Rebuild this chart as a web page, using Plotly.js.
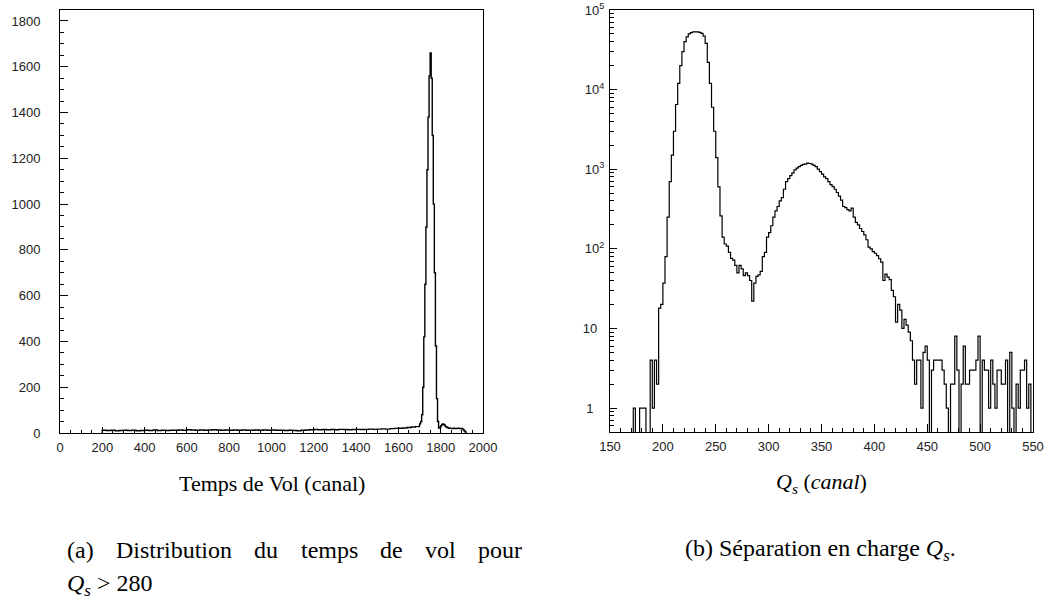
<!DOCTYPE html>
<html><head><meta charset="utf-8">
<script src="https://cdn.plot.ly/plotly-3.0.1.min.js"></script>
<style>html,body{margin:0;padding:0;background:#fff}#chart{width:1049px;height:602px}</style>
</head><body><div id="chart"></div>
<script>
// ---- Left: time-of-flight distribution (Qs > 280) ----
const tofBaseStart = 200, tofBaseWidth = 20;
const tofBaseCounts = [
  12,11,12,10,11,12,11,12,10,11,
  12,11,13,11,12,11,12,12,13,12,
  14,13,12,13,12,13,14,13,12,13,
  12,13,12,13,12,12,13,12,13,12,
  13,12,12,11,12,11,10,12,13,14,
  15,14,15,14,15,14,16,15,14,15,
  16,15,16,17,16,17,18,17,19,20,
  21,22,24,26,28
];
const tofPeakStart = 1700, tofPeakWidth = 5;
const tofPeakCounts = [
  40,50,80,200,420,650,900,1150,1380,1560,
  1660,1550,1300,1000,700,380,150,50,22,25,
  32,37,40,36,30,26,24,22,21,20,
  20,19,21,20,19,20,21,20,19,20,
  18,15,10,5
];
const tofXTicks = [0,200,400,600,800,1000,1200,1400,1600,1800,2000];
const tofYTicks = [0,200,400,600,800,1000,1200,1400,1600,1800];

// ---- Right: charge separation Qs (log scale) ----
const qsStart = 150, qsWidth = 2;
const qsCounts = [
  0,0,0,0,0,0,0,0,0,0,0,            // 150-170
  1,0,0,1,1,1,0,0,4,1,4,2,          // 172-194
  18,20,37,80,250,700,1500,3000,6500,12000, // 196-214
  20000,30000,40000,46000,50000,52000,53000,53000,53000,52500, // 216-234
  51000,47000,38000,22000,12000,6000,3000,1400,600,260, // 236-254
  140,115,108,90,76,72,62,50,62,56, // 256-274
  46,50,46,40,22,37,45,47,52,80,    // 276-294
  90,140,160,195,250,300,340,400,440,560, // 296-314
  700,760,830,900,980,1030,1080,1120,1150,1160, // 316-334
  1190,1180,1160,1120,1080,1000,930,870,800,760, // 336-354
  700,640,605,560,510,460,410,340,330,310, // 356-374
  300,325,250,215,200,180,165,150,130,105, // 376-394
  100,92,88,82,75,68,40,48,44,41,   // 396-414
  30,25,12,20,17,10,13,11,9,7,      // 416-434
  4,2,4,4,1,5,6,4,0,3,              // 436-454
  4,4,4,4,3,2,1,0,2,2,              // 456-474
  8,3,0,2,6,2,2,3,3,3,              // 476-494
  4,8,0,4,3,3,1,4,2,1,              // 496-514
  3,3,2,2,4,0,5,1,0,2,              // 516-534
  1,3,3,4,1,2,0                     // 536-548
];
const qsXTicks = [150,200,250,300,350,400,450,500,550];
const qsYTicks = [1,10,100,1000,10000,100000];
const qsYTickText = ['1\u00a0\u00a0\u00a0','10\u00a0\u00a0','10<sup>2</sup>','10<sup>3</sup>','10<sup>4</sup>','10<sup>5</sup>'];

// caption words of sub-figure (a), first line (justified)
const captionAWords = ['(a)','Distribution','du','temps','de','vol','pour'];

// ---- build step outlines from the bins ----
const tofX = [tofBaseStart], tofY = [0];
tofBaseCounts.forEach((v,i)=>{ tofX.push(tofBaseStart + i*tofBaseWidth); tofY.push(v); });
tofPeakCounts.forEach((v,i)=>{ tofX.push(tofPeakStart + i*tofPeakWidth); tofY.push(v); });
tofX.push(tofPeakStart + tofPeakCounts.length*tofPeakWidth); tofY.push(0);

const EMPTY = 0.1; // empty bins drop to the frame floor
const qsX = [], qsY = [];
qsCounts.forEach((v,i)=>{ qsX.push(qsStart + i*qsWidth); qsY.push(v > 0 ? v : EMPTY); });
qsX.push(qsStart + qsCounts.length*qsWidth); qsY.push(qsY[qsY.length-1]);

const minorLog = [];
[0.1,1,10,100,1000,10000].forEach(d=>{ for(let k=2;k<=9;k++){ const t=k*d; if(t>=0.5 && t<=100000) minorLog.push(t);} });

const W = 1049, H = 602;
const px = x => x / W, py = y => 1 - y / H;

const axBase = {
  showline:true, linecolor:'#000', linewidth:1, mirror:true,
  showgrid:false, zeroline:false, ticks:'inside', tickcolor:'#000',
  tickwidth:1, tickangle:0, fixedrange:true
};

const traces = [
  {x:tofX, y:tofY, xaxis:'x', yaxis:'y', mode:'lines', line:{shape:'hv', color:'#000', width:1.4}, hoverinfo:'skip'},
  {x:qsX, y:qsY, xaxis:'x2', yaxis:'y2', mode:'lines', line:{shape:'hv', color:'#000', width:1.2}, hoverinfo:'skip'}
];

const serif = 'Liberation Serif, DejaVu Serif, serif';
const titleFont = {family:serif, size:22, color:'#000'};
const capFont = {family:serif, size:24, color:'#000'};
function ann(text, x, y, font, xanchor){ return {text, x:px(x), y:py(y), xref:'paper', yref:'paper', xanchor:xanchor||'center', yanchor:'middle', showarrow:false, font:font}; }

// justify the first caption line between two page positions
const lineLeft = 65, lineRight = 520;
const ctx = document.createElement('canvas').getContext('2d');
ctx.font = capFont.size + 'px "Liberation Serif"';
const wordW = captionAWords.map(w => ctx.measureText(w).width);
const gap = (lineRight - lineLeft - wordW.reduce((a,b)=>a+b,0)) / (captionAWords.length - 1);
const captionAnns = [];
let cx = lineLeft;
captionAWords.forEach((w,i)=>{ captionAnns.push(ann(w, cx, 550, capFont, 'left')); cx += wordW[i] + gap; });

const layout = {
  width:W, height:H, margin:{l:0,r:0,t:0,b:0},
  paper_bgcolor:'#fff', plot_bgcolor:'#fff', showlegend:false,
  font:{family:'Liberation Sans, Arial, sans-serif', size:13, color:'#222'},
  xaxis: Object.assign({}, axBase, {
    domain:[px(60), px(483)], range:[0,2000], anchor:'y',
    tickmode:'array', tickvals:tofXTicks, ticklen:6, ticklabelstandoff:2,
    minor:{ticks:'inside', dtick:50, ticklen:3, tickcolor:'#000'}
  }),
  yaxis: Object.assign({}, axBase, {
    domain:[py(433), py(10)], range:[0,1848], anchor:'x',
    tickmode:'array', tickvals:tofYTicks, ticklen:8, ticklabelstandoff:16,
    minor:{ticks:'inside', dtick:50, ticklen:4, tickcolor:'#000'}
  }),
  xaxis2: Object.assign({}, axBase, {
    domain:[px(610), px(1033)], range:[150,550], anchor:'y2',
    tickmode:'array', tickvals:qsXTicks, ticklen:8, ticklabelstandoff:2,
    minor:{ticks:'inside', dtick:10, ticklen:4, tickcolor:'#000'}
  }),
  yaxis2: Object.assign({}, axBase, {
    type:'log', domain:[py(432), py(10)], range:[Math.log10(0.5), 5], anchor:'x2',
    tickmode:'array', tickvals:qsYTicks, ticktext:qsYTickText, ticklen:7, ticklabelstandoff:2,
    minor:{ticks:'inside', tickmode:'array', tickvals:minorLog, ticklen:4, tickcolor:'#000'}
  }),
  annotations: [
    ann('Temps de Vol (canal)', 272, 483, titleFont),
    ann('<i>Q<sub>s</sub></i> (<i>canal</i>)', 821, 483, titleFont)
  ].concat(captionAnns, [
    ann('<i>Q<sub>s</sub></i> &gt; 280', 65, 585, capFont, 'left'),
    ann('(b) Séparation en charge <i>Q<sub>s</sub></i>.', 820, 550, capFont)
  ])
};

Plotly.newPlot('chart', traces, layout, {staticPlot:true, displayModeBar:false});
</script></body></html>
